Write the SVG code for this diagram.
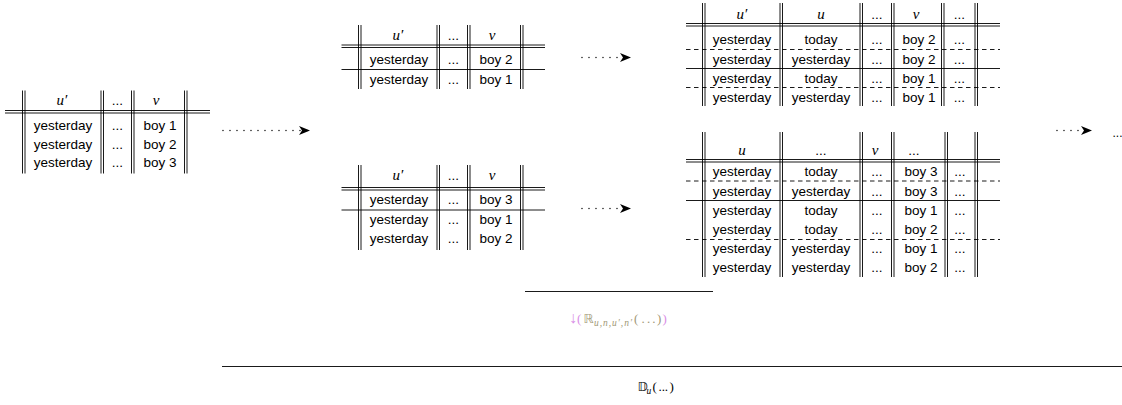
<svg xmlns="http://www.w3.org/2000/svg" width="1122" height="405" viewBox="0 0 1122 405">
  <defs>
    <style>
      .rule { stroke: #000; stroke-width: 0.9; fill: none; }
      .dash { stroke: #000; stroke-width: 0.9; fill: none; stroke-dasharray: 4.5 3.5; }
      .cell { font-family: 'Liberation Sans', Arial, sans-serif; font-size: 13.5px; text-anchor: middle; fill: #000; }
      .head { font-family: 'Liberation Serif', 'Times New Roman', serif; font-style: italic; font-size: 15px; text-anchor: middle; fill: #000; }
      .arrow { stroke: #000; stroke-width: 1.4; stroke-dasharray: 0 7; stroke-linecap: round; fill: none; marker-end: url(#stealth); }
      .math { font-family: 'Liberation Serif', 'DejaVu Serif', serif; font-size: 13px; }
      .bb { font-family: 'DejaVu Sans', 'DejaVu Serif', sans-serif; font-size: 12.5px; }
      .sub { font-family: 'Liberation Serif', 'DejaVu Serif', serif; font-style: italic; font-size: 9.5px; }
      .pink { fill: #d98ee6; }
      .olive { fill: #9f9876; }
    </style>
    <marker id="stealth" markerUnits="userSpaceOnUse" markerWidth="12" markerHeight="10" refX="11" refY="5" orient="auto">
      <path d="M0,0.6 L11,5 L0,9.4 L3,5 Z" fill="#000"/>
    </marker>
  </defs>

  <rect width="1122" height="405" fill="#fff"/>

  <!-- initial relation -->
  <g id="table-base">
    <path class="rule" d="M22.5 90.5V173.5M25 90.5V173.5M101 90.5V173.5M103.5 90.5V173.5M131.5 90.5V173.5M134 90.5V173.5M184.5 90.5V173.5M187 90.5V173.5M5 110.5H210M5 113H210"/>
    <text class="head" x="62" y="104.5">u′</text>
    <text class="cell" x="117.5" y="104.5">...</text>
    <text class="head" x="156" y="104.5">v</text>
    <text class="cell" x="63" y="129.5">yesterday</text>
    <text class="cell" x="117.5" y="129.5">...</text>
    <text class="cell" x="160" y="129.5">boy 1</text>
    <text class="cell" x="63" y="148.5">yesterday</text>
    <text class="cell" x="117.5" y="148.5">...</text>
    <text class="cell" x="160" y="148.5">boy 2</text>
    <text class="cell" x="63" y="167">yesterday</text>
    <text class="cell" x="117.5" y="167">...</text>
    <text class="cell" x="160" y="167">boy 3</text>
  </g>

  <!-- upper split -->
  <g id="table-split-top">
    <path class="rule" d="M358.5 25V89M361 25V89M437 25V89M439.5 25V89M467.5 25V89M470 25V89M520.5 25V89M523 25V89M341.5 45H545M341.5 47.5H545M341.5 69.5H545"/>
    <text class="head" x="398" y="39.5">u′</text>
    <text class="cell" x="453.5" y="39.5">...</text>
    <text class="head" x="492" y="39.5">v</text>
    <text class="cell" x="399" y="64">yesterday</text>
    <text class="cell" x="453.5" y="64">...</text>
    <text class="cell" x="496" y="64">boy 2</text>
    <text class="cell" x="399" y="83.5">yesterday</text>
    <text class="cell" x="453.5" y="83.5">...</text>
    <text class="cell" x="496" y="83.5">boy 1</text>
  </g>

  <!-- lower split -->
  <g id="table-split-bottom">
    <path class="rule" d="M358.5 165V250M361 165V250M437 165V250M439.5 165V250M467.5 165V250M470 165V250M520.5 165V250M523 165V250M341.5 187.5H545M341.5 190H545M341.5 210H545"/>
    <text class="head" x="398" y="180">u′</text>
    <text class="cell" x="453.5" y="180">...</text>
    <text class="head" x="492" y="180">v</text>
    <text class="cell" x="399" y="204">yesterday</text>
    <text class="cell" x="453.5" y="204">...</text>
    <text class="cell" x="496" y="204">boy 3</text>
    <text class="cell" x="399" y="224">yesterday</text>
    <text class="cell" x="453.5" y="224">...</text>
    <text class="cell" x="496" y="224">boy 1</text>
    <text class="cell" x="399" y="243">yesterday</text>
    <text class="cell" x="453.5" y="243">...</text>
    <text class="cell" x="496" y="243">boy 2</text>
  </g>

  <!-- joined result, upper -->
  <g id="table-join-top">
    <path class="dash" d="M686 49.5H1000M686 87.5H1000"/>
    <path class="rule" d="M702.5 3V106M705 3V106M780 3V106M782.5 3V106M860 3V106M862.5 3V106M891.5 3V106M894 3V106M941.5 3V106M944 3V106M975 3V106M977.5 3V106M686 23.5H1000M686 26H1000M686 68.5H1000"/>
    <text class="head" x="742" y="18.5">u′</text>
    <text class="head" x="821" y="18.5">u</text>
    <text class="cell" x="877" y="18.5">...</text>
    <text class="head" x="916" y="18.5">v</text>
    <text class="cell" x="959.5" y="18.5">...</text>
    <text class="cell" x="742" y="44">yesterday</text>
    <text class="cell" x="821" y="44">today</text>
    <text class="cell" x="877" y="44">...</text>
    <text class="cell" x="919" y="44">boy 2</text>
    <text class="cell" x="959.5" y="44">...</text>
    <text class="cell" x="742" y="63.5">yesterday</text>
    <text class="cell" x="821" y="63.5">yesterday</text>
    <text class="cell" x="877" y="63.5">...</text>
    <text class="cell" x="919" y="63.5">boy 2</text>
    <text class="cell" x="959.5" y="63.5">...</text>
    <text class="cell" x="742" y="82.5">yesterday</text>
    <text class="cell" x="821" y="82.5">today</text>
    <text class="cell" x="877" y="82.5">...</text>
    <text class="cell" x="919" y="82.5">boy 1</text>
    <text class="cell" x="959.5" y="82.5">...</text>
    <text class="cell" x="742" y="101.5">yesterday</text>
    <text class="cell" x="821" y="101.5">yesterday</text>
    <text class="cell" x="877" y="101.5">...</text>
    <text class="cell" x="919" y="101.5">boy 1</text>
    <text class="cell" x="959.5" y="101.5">...</text>
  </g>

  <!-- joined result, lower -->
  <g id="table-join-bottom">
    <path class="dash" d="M686 181H1000M686 239.5H1000"/>
    <path class="rule" d="M702.5 132V277M705 132V277M780 132V277M782.5 132V277M860 132V277M862.5 132V277M891.5 132V277M894 132V277M945 132V277M947.5 132V277M975 132V277M977.5 132V277M686 159.5H1000M686 162H1000M686 200.5H1000"/>
    <text class="head" x="742" y="154.5">u</text>
    <text class="cell" x="821" y="154.5">...</text>
    <text class="head" x="875" y="154.5">v</text>
    <text class="cell" x="914" y="154.5">...</text>
    <text class="cell" x="742" y="176">yesterday</text>
    <text class="cell" x="821" y="176">today</text>
    <text class="cell" x="877" y="176">...</text>
    <text class="cell" x="921" y="176">boy 3</text>
    <text class="cell" x="960" y="176">...</text>
    <text class="cell" x="742" y="195.5">yesterday</text>
    <text class="cell" x="821" y="195.5">yesterday</text>
    <text class="cell" x="877" y="195.5">...</text>
    <text class="cell" x="921" y="195.5">boy 3</text>
    <text class="cell" x="960" y="195.5">...</text>
    <text class="cell" x="742" y="214.5">yesterday</text>
    <text class="cell" x="821" y="214.5">today</text>
    <text class="cell" x="877" y="214.5">...</text>
    <text class="cell" x="921" y="214.5">boy 1</text>
    <text class="cell" x="960" y="214.5">...</text>
    <text class="cell" x="742" y="233.5">yesterday</text>
    <text class="cell" x="821" y="233.5">today</text>
    <text class="cell" x="877" y="233.5">...</text>
    <text class="cell" x="921" y="233.5">boy 2</text>
    <text class="cell" x="960" y="233.5">...</text>
    <text class="cell" x="742" y="253">yesterday</text>
    <text class="cell" x="821" y="253">yesterday</text>
    <text class="cell" x="877" y="253">...</text>
    <text class="cell" x="921" y="253">boy 1</text>
    <text class="cell" x="960" y="253">...</text>
    <text class="cell" x="742" y="272">yesterday</text>
    <text class="cell" x="821" y="272">yesterday</text>
    <text class="cell" x="877" y="272">...</text>
    <text class="cell" x="921" y="272">boy 2</text>
    <text class="cell" x="960" y="272">...</text>
  </g>

  <!-- trailing continuation -->
  <g id="continuation">
    <text class="cell" x="1112.5" y="136.5" style="text-anchor:start;font-size:12px">...</text>
  </g>

  <!-- dotted transition arrows -->
  <g id="connectors">
    <path class="arrow" d="M223 130.5H310"/>
    <path class="arrow" d="M582 57.5H631"/>
    <path class="arrow" d="M582 208.5H631"/>
    <path class="arrow" d="M1057 130.5H1092"/>
  </g>

  <!-- rewrite step -->
  <g id="rewrite-step">
    <path class="rule" d="M525 291.5H713"/>
    <text class="math pink" x="569" y="323" style="font-size:16px">↓</text>
    <text class="math pink" x="577" y="322.5">(</text>
    <text class="bb olive" x="583.5" y="322.5">ℝ</text>
    <text class="sub olive" x="594" y="325.5" textLength="38" lengthAdjust="spacing">u,n,u′,n′</text>
    <text class="math olive" x="634" y="322.5">(</text>
    <text class="math olive" x="641.5" y="322.5" textLength="14" lengthAdjust="spacing">...</text>
    <text class="math olive" x="657" y="322.5">)</text>
    <text class="math pink" x="662.5" y="322.5">)</text>
  </g>

  <!-- derivation -->
  <g id="derivation">
    <path class="rule" d="M222 366.5H1122"/>
    <text class="bb" x="637.5" y="391">𝔻</text>
    <text class="sub" x="646.5" y="393.5">u</text>
    <text class="math" x="652.5" y="391">(</text>
    <text class="math" x="658.5" y="391" textLength="9.5" lengthAdjust="spacing">...</text>
    <text class="math" x="669.5" y="391">)</text>
  </g>
</svg>
